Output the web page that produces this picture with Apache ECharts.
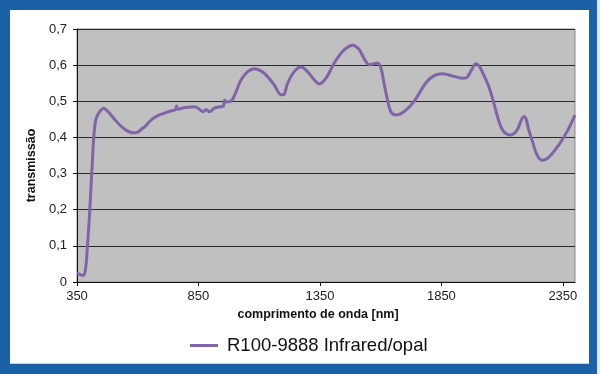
<!DOCTYPE html>
<html>
<head>
<meta charset="utf-8">
<script src="https://cdn.jsdelivr.net/npm/echarts@6/dist/echarts.min.js"></script>
<style>
  html, body { margin: 0; padding: 0; }
  #frame { position: relative; width: 600px; height: 374px; background: #1a61a8; overflow: hidden; }
  #edge { position: absolute; left: 597px; top: 0; width: 3px; height: 374px; background: #dfe8f1; }
  #inner { position: absolute; left: 10px; top: 10px; width: 579px; height: 353px; background: #ffffff; border-bottom: 1px solid #bcd6ee; }
  #chart { position: absolute; left: 0; top: 0; width: 600px; height: 374px; }
</style>
</head>
<body>
<div id="frame">
  <div id="edge"></div>
  <div id="inner"></div>
  <div id="chart"></div>
</div>
<script>
// wavelength [nm]
const wavelengths = [350,365,375,385,393,402,408,413,419,427,435,443,460,472,484,505,525,550,580,600,615,630,649,669,687,710,735,755,760,765,790,815,833,850,868,882,895,916,940,952,958,966,975,987,1005,1025,1053,1080,1105,1128,1162,1190,1200,1217,1244,1272,1299,1327,1347,1375,1409,1443,1470,1488,1500,1512,1539,1553,1570,1587,1601,1614,1628,1642,1662,1696,1737,1785,1820,1854,1902,1935,1955,1970,1993,2005,2018,2045,2066,2087,2107,2135,2162,2180,2189,2198,2210,2223,2244,2265,2292,2333,2367,2400];
// transmission
const transmission = [0.024,0.020,0.018,0.035,0.10,0.19,0.27,0.33,0.40,0.448,0.462,0.471,0.481,0.475,0.467,0.450,0.435,0.421,0.413,0.415,0.423,0.430,0.444,0.455,0.462,0.467,0.473,0.477,0.487,0.478,0.482,0.484,0.485,0.480,0.471,0.477,0.471,0.481,0.485,0.486,0.503,0.498,0.499,0.502,0.527,0.559,0.582,0.590,0.585,0.573,0.545,0.518,0.518,0.550,0.582,0.595,0.582,0.559,0.548,0.564,0.606,0.638,0.652,0.655,0.650,0.643,0.610,0.601,0.603,0.606,0.592,0.550,0.504,0.471,0.462,0.471,0.499,0.550,0.571,0.576,0.569,0.564,0.566,0.582,0.604,0.598,0.582,0.541,0.495,0.444,0.416,0.407,0.421,0.450,0.458,0.452,0.420,0.393,0.351,0.337,0.345,0.379,0.416,0.462];
const xTicks = [350, 850, 1350, 1850, 2350];
const seriesName = 'R100-9888 Infrared/opal';
const xName = 'comprimento de onda [nm]';
const yName = 'transmissão';

const chart = echarts.init(document.getElementById('chart'), null, { renderer: 'canvas' });
const font = '"Liberation Sans", Arial, sans-serif';
chart.setOption({
  backgroundColor: 'transparent',
  animation: false,
  textStyle: { fontFamily: font },
  grid: {
    left: 77, right: 25, top: 29, bottom: 92,
    show: true, backgroundColor: '#c0c0c0', borderColor: '#8a8a8a', borderWidth: 1
  },
  legend: {
    data: [seriesName],
    left: 185, top: 331,
    icon: 'rect', itemWidth: 28, itemHeight: 3, itemGap: 10,
    textStyle: { fontSize: 18.5, color: '#111', fontFamily: font, padding: [0, 0, 0, 4] }
  },
  xAxis: {
    type: 'value', min: 350, max: 2400,
    name: xName, nameLocation: 'middle', nameGap: 25,
    nameTextStyle: { fontSize: 12.5, fontWeight: 'bold', color: '#111', padding: [0, 16, 0, 0] },
    axisLine: { show: true, lineStyle: { color: '#111', width: 1 } },
    axisTick: { show: true, length: 4, customValues: xTicks, lineStyle: { color: '#111' } },
    axisLabel: { customValues: xTicks, fontSize: 13, color: '#222', margin: 8, formatter: v => String(v) },
    splitLine: { show: false }
  },
  yAxis: {
    type: 'value', min: 0, max: 0.7, interval: 0.1,
    name: yName, nameLocation: 'middle', nameGap: 39,
    nameTextStyle: { fontSize: 12.5, fontWeight: 'bold', color: '#111', padding: [0, 20, 0, 0] },
    axisLine: { show: true, lineStyle: { color: '#111', width: 1 } },
    axisTick: { show: true, length: 4, lineStyle: { color: '#111' } },
    axisLabel: {
      fontSize: 13, color: '#222', margin: 10,
      formatter: v => v === 0 ? '0' : v.toFixed(1).replace('.', ',')
    },
    splitLine: { show: true, lineStyle: { color: '#2a2a2a', width: 1 } }
  },
  series: [{
    name: seriesName,
    type: 'line',
    data: wavelengths.map((w, i) => [w, transmission[i]]),
    smooth: 0.35,
    showSymbol: false,
    symbol: 'none',
    lineStyle: { color: '#8064a8', width: 3 },
    itemStyle: { color: '#8064a8' }
  }]
});
</script>
</body>
</html>
